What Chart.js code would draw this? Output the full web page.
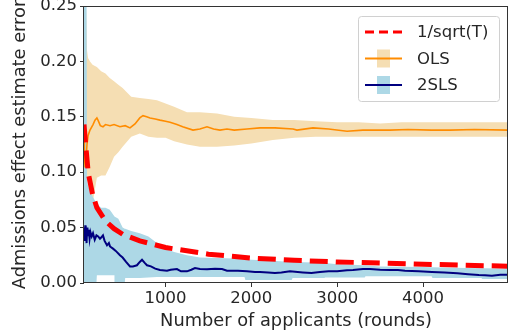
<!DOCTYPE html>
<html>
<head>
<meta charset="utf-8">
<script src="https://cdn.jsdelivr.net/npm/chart.js@4.4.9/dist/chart.umd.min.js"></script>
<style>
  html, body { margin: 0; padding: 0; background: #fff; }
</style>
</head>
<body>
<canvas id="chart" width="511" height="336"></canvas>
<script>
/* data */
const xTicks = [1000, 2000, 3000, 4000];

const sqrtX = [50, 75, 100, 150, 200, 300, 400, 500, 700, 1000, 1500, 2000, 2500, 3000, 3500, 4000, 4500, 4990];
const sqrtY = [0.143, 0.12, 0.099, 0.08, 0.068, 0.056, 0.049, 0.044, 0.038, 0.032, 0.026, 0.0225, 0.0205, 0.019, 0.018, 0.017, 0.016, 0.0152];

const olsX = [50, 55, 62, 68, 73, 85, 97, 120, 155, 178, 200, 213, 240, 271, 300, 353, 400, 469, 530, 586, 644, 700, 737, 780, 819, 880, 935, 1000, 1052, 1133, 1200, 1320, 1400, 1483, 1560, 1634, 1716, 1800, 1949, 2100, 2275, 2485, 2531, 2718, 2900, 3114, 3300, 3615, 3825, 4100, 4314, 4600, 4990];
const olsY = [0.128, 0.115, 0.105, 0.118, 0.108, 0.125, 0.133, 0.138, 0.143, 0.147, 0.149, 0.147, 0.142, 0.141, 0.143, 0.142, 0.143, 0.141, 0.142, 0.140, 0.1435, 0.149, 0.151, 0.150, 0.149, 0.148, 0.147, 0.146, 0.145, 0.143, 0.141, 0.138, 0.139, 0.141, 0.139, 0.138, 0.139, 0.138, 0.139, 0.140, 0.140, 0.139, 0.138, 0.140, 0.139, 0.137, 0.138, 0.138, 0.1385, 0.138, 0.138, 0.1385, 0.138];

const olsBandX = [50, 62, 75, 85, 97, 120, 150, 200, 250, 300, 350, 400, 450, 500, 600, 700, 800, 900, 1000, 1100, 1250, 1400, 1600, 1800, 2000, 2250, 2500, 2750, 3000, 3250, 3500, 3750, 4000, 4250, 4500, 4750, 4990];
const olsUpper = [0.26, 0.26, 0.245, 0.21, 0.203, 0.200, 0.197, 0.195, 0.191, 0.189, 0.185, 0.182, 0.179, 0.176, 0.168, 0.167, 0.166, 0.165, 0.162, 0.159, 0.154, 0.154, 0.153, 0.150, 0.149, 0.147, 0.147, 0.146, 0.145, 0.145, 0.144, 0.145, 0.145, 0.145, 0.145, 0.145, 0.145];
const olsLower = [0.11, 0.105, 0.10, 0.098, 0.09, 0.075, 0.072, 0.095, 0.097, 0.097, 0.105, 0.114, 0.118, 0.123, 0.132, 0.135, 0.132, 0.131, 0.131, 0.128, 0.125, 0.123, 0.123, 0.124, 0.126, 0.129, 0.131, 0.132, 0.132, 0.132, 0.132, 0.132, 0.132, 0.132, 0.132, 0.132, 0.132];

const tslsX = [50, 55, 60, 65, 70, 75, 80, 85, 90, 97, 105, 115, 125, 140, 155, 175, 195, 215, 236, 250, 271, 290, 318, 340, 353, 388, 420, 469, 500, 540, 586, 620, 667, 700, 726, 760, 784, 830, 880, 935, 1017, 1060, 1133, 1180, 1250, 1300, 1343, 1401, 1483, 1576, 1658, 1716, 1844, 1949, 2042, 2100, 2194, 2275, 2350, 2450, 2600, 2700, 2799, 2900, 3000, 3114, 3184, 3300, 3382, 3500, 3615, 3708, 3790, 3950, 4104, 4250, 4400, 4524, 4650, 4722, 4803, 4900, 4990];
const tslsY = [0.045, 0.05, 0.038, 0.052, 0.042, 0.048, 0.036, 0.047, 0.05, 0.043, 0.048, 0.04, 0.046, 0.042, 0.045, 0.039, 0.043, 0.042, 0.040, 0.041, 0.043, 0.038, 0.034, 0.036, 0.033, 0.031, 0.029, 0.025, 0.023, 0.019, 0.015, 0.015, 0.016, 0.019, 0.021, 0.018, 0.016, 0.015, 0.013, 0.0117, 0.011, 0.012, 0.0126, 0.0105, 0.0105, 0.012, 0.0135, 0.0126, 0.0125, 0.0128, 0.0126, 0.011, 0.011, 0.0105, 0.010, 0.010, 0.0095, 0.009, 0.0095, 0.0105, 0.0095, 0.009, 0.010, 0.0105, 0.0107, 0.0115, 0.0117, 0.0126, 0.0126, 0.012, 0.0117, 0.0117, 0.011, 0.0105, 0.010, 0.0095, 0.0088, 0.008, 0.0072, 0.007, 0.0065, 0.0075, 0.0075];

const tslsBandX = [50, 80, 85, 97, 120, 150, 195, 200, 250, 300, 350, 405, 410, 450, 500, 525, 530, 600, 700, 800, 900, 1000, 1100, 1250, 1400, 1600, 1800, 1920, 1930, 2000, 2250, 2470, 2480, 2750, 2850, 2860, 3000, 3320, 3330, 3500, 4000, 4100, 4110, 4500, 4680, 4690, 4990];
const tslsUpper = [0.26, 0.26, 0.093, 0.088, 0.083, 0.078, 0.072, 0.072, 0.068, 0.068, 0.066, 0.06, 0.06, 0.058, 0.05, 0.049, 0.049, 0.047, 0.045, 0.042, 0.036, 0.031, 0.028, 0.025, 0.023, 0.0225, 0.022, 0.0215, 0.0215, 0.021, 0.020, 0.019, 0.019, 0.0185, 0.018, 0.018, 0.017, 0.016, 0.016, 0.015, 0.0145, 0.0142, 0.0142, 0.0135, 0.0133, 0.0133, 0.013];
const tslsLower = [0, 0, 0, 0, 0, 0, 0, 0.007, 0.007, 0.007, 0.007, 0.007, 0, 0, 0, 0, 0.0045, 0.0045, 0.0045, 0.005, 0.0054, 0.0054, 0.0054, 0.0054, 0.0054, 0.0054, 0.0054, 0.0054, 0.0027, 0.0027, 0.0027, 0.0027, 0.0045, 0.0045, 0.0045, 0.005, 0.005, 0.005, 0.006, 0.006, 0.006, 0.006, 0.0045, 0.0045, 0.0045, 0.0036, 0.0036];

/* styles */
const FONT = 'DejaVu Sans';
const TEXT = '#262626';
const C = {
  sqrt: '#ff0000',
  ols: '#ff8c00',
  olsBand: '#f5deb3',
  tsls: '#000080',
  tslsBand: '#add8e6',
};

const pts = (xs, ys) => xs.map((x, i) => ({ x, y: ys[i] }));
// closed outline: upper edge left->right, lower edge right->left
const band = (xs, hi, lo) => pts(xs, hi).concat(pts(xs, lo).reverse());

/* box + legend drawn after everything */
const frame = {
  id: 'frame',
  afterDraw(chart) {
    const { ctx, chartArea: a } = chart;
    ctx.save();
    ctx.strokeStyle = '#333';
    ctx.lineWidth = 1;
    ctx.strokeRect(Math.round(a.left) - 0.5, Math.round(a.top) + 0.5,
                   Math.round(a.right - a.left), Math.round(a.bottom - a.top) - 1);

    // legend: line + patch handles like matplotlib
    const entries = [
      { label: '1/sqrt(T)', line: C.sqrt, dash: [9, 5], width: 3 },
      { label: 'OLS', line: C.ols, patch: C.olsBand, width: 2 },
      { label: '2SLS', line: C.tsls, patch: C.tslsBand, width: 2 },
    ];
    const bw = 141, bh = 85;
    const bx = a.right - 9 - bw, by = a.top + 10;
    ctx.fillStyle = 'rgba(255,255,255,0.8)';
    ctx.strokeStyle = '#d0d0d0';
    ctx.beginPath();
    ctx.roundRect(bx + 0.5, by + 0.5, bw, bh, 3);
    ctx.fill();
    ctx.stroke();
    ctx.font = `16.5px "${FONT}"`;
    ctx.textBaseline = 'middle';
    entries.forEach((e, i) => {
      const cy = by + 16 + i * 26.5;
      const hx = bx + 7, hw = 37;
      if (e.patch) {
        ctx.fillStyle = e.patch;
        ctx.fillRect(hx + hw / 2 - 6.5, cy - 9, 13, 18);
      }
      ctx.strokeStyle = e.line;
      ctx.lineWidth = e.width;
      ctx.setLineDash(e.dash || []);
      ctx.beginPath();
      ctx.moveTo(hx, cy);
      ctx.lineTo(hx + hw, cy);
      ctx.stroke();
      ctx.setLineDash([]);
      ctx.fillStyle = TEXT;
      ctx.fillText(e.label, bx + 59, cy + 1);
    });
    ctx.restore();
  }
};

new Chart(document.getElementById('chart').getContext('2d'), {
  type: 'line',
  data: {
    datasets: [
      { label: '1/sqrt(T)', data: pts(sqrtX, sqrtY), borderColor: C.sqrt, borderWidth: 5,
        borderDash: [18, 8], borderCapStyle: 'butt', pointRadius: 0, fill: false, order: 0 },
      { label: '2SLS', data: pts(tslsX, tslsY), borderColor: C.tsls, borderWidth: 2,
        pointRadius: 0, fill: false, order: 1 },
      { label: 'OLS', data: pts(olsX, olsY), borderColor: C.ols, borderWidth: 1.6,
        pointRadius: 0, fill: false, order: 2 },
      { label: '2SLS band', data: band(tslsBandX, tslsUpper, tslsLower), borderWidth: 0,
        pointRadius: 0, backgroundColor: C.tslsBand, fill: 'shape', order: 3 },
      { label: 'OLS band', data: band(olsBandX, olsUpper, olsLower), borderWidth: 0,
        pointRadius: 0, backgroundColor: C.olsBand, fill: 'shape', order: 4 },
    ]
  },
  options: {
    responsive: false,
    animation: false,
    events: [],
    layout: { padding: { left: 0, right: 3, top: 6, bottom: 0 } },
    plugins: {
      legend: { display: false },
      tooltip: { enabled: false },
    },
    scales: {
      x: {
        type: 'linear', min: 50, max: 4990,
        afterBuildTicks: s => { s.ticks = xTicks.map(v => ({ value: v })); },
        afterFit: s => { s.height = 53; },
        grid: { drawOnChartArea: false, tickLength: 4, color: '#333' },
        border: { display: false },
        ticks: { color: TEXT, font: { family: FONT, size: 16.5 }, padding: 2, maxRotation: 0,
                 callback: v => String(v) },
        title: { display: true, text: 'Number of applicants (rounds)', color: TEXT,
                 font: { family: FONT, size: 17.8 }, padding: { top: 0, bottom: 4 } },
      },
      y: {
        min: 0, max: 0.25,
        afterFit: s => { s.width = 84; s.paddingTop = 0; s.paddingBottom = 0; },
        grid: { drawOnChartArea: false, tickLength: 4, color: '#333' },
        border: { display: false },
        ticks: { stepSize: 0.05, color: TEXT, font: { family: FONT, size: 16.5 }, padding: 3,
                 callback: v => v.toFixed(2) },
        title: { display: true, text: 'Admissions effect estimate error', color: TEXT,
                 font: { family: FONT, size: 17.8 }, padding: { top: 10, bottom: 0 } },
      }
    }
  },
  plugins: [frame]
});
</script>
</body>
</html>
